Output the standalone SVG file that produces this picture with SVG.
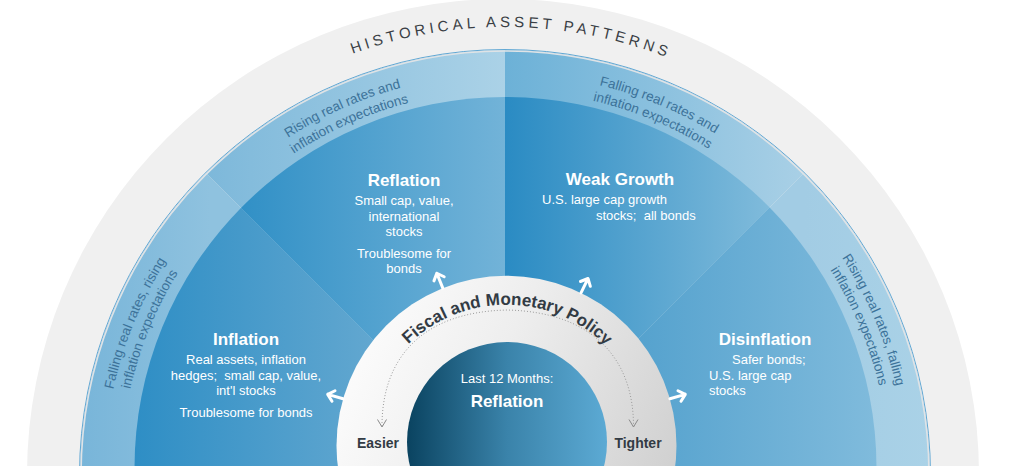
<svg xmlns="http://www.w3.org/2000/svg" xmlns:xlink="http://www.w3.org/1999/xlink" width="1014" height="474" viewBox="0 0 1014 474">
<style>
.t{font-family:"Liberation Sans",Arial,sans-serif;}
.title{font-family:"Liberation Sans",Arial,sans-serif;font-weight:bold;font-size:17px;fill:#fff;}
.body{font-family:"Liberation Sans",Arial,sans-serif;font-size:13px;fill:#fff;}
.band{font-family:"Liberation Sans",Arial,sans-serif;font-size:13.5px;fill:#3c7299;}
.pol{font-family:"Liberation Sans",Arial,sans-serif;font-weight:bold;fill:#323b44;}
</style>
<defs>
<linearGradient id="gL1" gradientUnits="userSpaceOnUse" x1="80" y1="0" x2="210" y2="0"><stop offset="0" stop-color="#78b5d9"/><stop offset="1" stop-color="#8fc2df"/></linearGradient>
<linearGradient id="gL2" gradientUnits="userSpaceOnUse" x1="205" y1="0" x2="505" y2="0"><stop offset="0" stop-color="#7db8da"/><stop offset="1" stop-color="#abd2e7"/></linearGradient>
<linearGradient id="gL3" gradientUnits="userSpaceOnUse" x1="505" y1="0" x2="805" y2="0"><stop offset="0" stop-color="#6cb1d7"/><stop offset="1" stop-color="#a9d0e6"/></linearGradient>
<linearGradient id="gL4" gradientUnits="userSpaceOnUse" x1="805" y1="0" x2="930" y2="0"><stop offset="0" stop-color="#a2cce4"/><stop offset="1" stop-color="#aad2e7"/></linearGradient>
<linearGradient id="gInf" gradientUnits="userSpaceOnUse" x1="134" y1="0" x2="400" y2="0"><stop offset="0" stop-color="#2e8ec5"/><stop offset="1" stop-color="#68aad1"/></linearGradient>
<linearGradient id="gRef" gradientUnits="userSpaceOnUse" x1="241" y1="0" x2="505" y2="0"><stop offset="0" stop-color="#3190c6"/><stop offset="1" stop-color="#72b3d8"/></linearGradient>
<linearGradient id="gWG" gradientUnits="userSpaceOnUse" x1="505" y1="0" x2="770" y2="0"><stop offset="0" stop-color="#2a8bc3"/><stop offset="1" stop-color="#80bbdb"/></linearGradient>
<linearGradient id="gDis" gradientUnits="userSpaceOnUse" x1="637" y1="0" x2="877" y2="0"><stop offset="0" stop-color="#55a2ce"/><stop offset="1" stop-color="#80bbdc"/></linearGradient>
<linearGradient id="gRing" gradientUnits="userSpaceOnUse" x1="340" y1="300" x2="680" y2="460"><stop offset="0" stop-color="#ffffff"/><stop offset="0.45" stop-color="#eeeeee"/><stop offset="1" stop-color="#d0d0d0"/></linearGradient>
<linearGradient id="gCore" gradientUnits="userSpaceOnUse" x1="407" y1="0" x2="607" y2="0"><stop offset="0" stop-color="#0a4360"/><stop offset="0.5" stop-color="#3a83aa"/><stop offset="1" stop-color="#5caad4"/></linearGradient>
<path id="pHist" d="M221.9,127.8 A448,448 0 0 1 797.7,135.9"/>
<path id="pTL1" d="M202.75,211.48 A401,401 0 0 1 512.7,74.07"/>
<path id="pTL2" d="M215.18,222.32 A384.5,384.5 0 0 1 512.38,90.57"/>
<path id="pTR1" d="M488.21,74.35 A401,401 0 0 1 801.12,204.61"/>
<path id="pTR2" d="M488.9,90.84 A384.5,384.5 0 0 1 788.94,215.73"/>
<path id="pL1" d="M104.45,493.89 A401,401 0 0 1 233.06,180.3"/>
<path id="pL2" d="M120.93,493.11 A384.5,384.5 0 0 1 244.25,192.43"/>
<path id="pR1" d="M774.33,177.92 A401,401 0 0 1 905.7,490.39"/>
<path id="pR2" d="M763.25,190.14 A384.5,384.5 0 0 1 889.22,489.76"/>
<path id="pPol" d="M384.9,374.35 A141,141 0 0 1 629.1,376.05"/>
<g id="arr"><path d="M0,0 L0,-16 M-5.5,-10 L0,-16 L5.5,-10" fill="none" stroke="#ffffff" stroke-width="3" stroke-linecap="round" stroke-linejoin="round"/></g>
</defs>

<g id="outer-ring">
<circle cx="503" cy="475" r="476" fill="#f0f0f0"/>
<text class="t" font-size="15" letter-spacing="4" fill="#3a3f45"><textPath href="#pHist" startOffset="50%" text-anchor="middle">HISTORICAL ASSET PATTERNS</textPath></text>
</g>

<g id="band-left">
<path d="M505,472 L80,475 A425,425 0 0 1 206,173 Z" fill="url(#gL1)"/>
<text class="band"><textPath href="#pL1" startOffset="50%" text-anchor="middle">Falling real rates, rising</textPath></text>
<text class="band"><textPath href="#pL2" startOffset="50%" text-anchor="middle">inflation expectations</textPath></text>
</g>
<g id="band-top-left">
<path d="M505,472 L206,173 A425,425 0 0 1 505,50 Z" fill="url(#gL2)"/>
<text class="band"><textPath href="#pTL1" startOffset="50%" text-anchor="middle">Rising real rates and</textPath></text>
<text class="band"><textPath href="#pTL2" startOffset="50%" text-anchor="middle">inflation expectations</textPath></text>
</g>
<g id="band-top-right">
<path d="M505,472 L505,50 A425,425 0 0 1 804,173 Z" fill="url(#gL3)"/>
<text class="band"><textPath href="#pTR1" startOffset="50%" text-anchor="middle">Falling real rates and</textPath></text>
<text class="band"><textPath href="#pTR2" startOffset="50%" text-anchor="middle">inflation expectations</textPath></text>
</g>
<g id="band-right">
<path d="M505,472 L804,173 A425,425 0 0 1 930,475 Z" fill="url(#gL4)"/>
<text class="band"><textPath href="#pR1" startOffset="50%" text-anchor="middle">Rising real rates, falling</textPath></text>
<text class="band"><textPath href="#pR2" startOffset="50%" text-anchor="middle">inflation expectations</textPath></text>
</g>
<g id="band-edge" fill="none">
<circle cx="505" cy="475" r="425.5" stroke="#62a8d4" stroke-width="1"/>
<circle cx="505" cy="475" r="424" stroke="#dfe3e6" stroke-width="1.6"/>
</g>

<g id="sector-inflation">
<path d="M505,472 L134.5,468 A371,371 0 0 1 240.9,207.9 Z" fill="url(#gInf)"/>
<text class="title" x="246" y="345" text-anchor="middle">Inflation</text>
<text class="body" text-anchor="middle" xml:space="preserve"><tspan x="246" y="364">Real assets, inflation</tspan><tspan x="246" y="380">hedges;  small cap, value,</tspan><tspan x="246" y="395">int'l stocks</tspan><tspan x="246" y="417">Troublesome for bonds</tspan></text>
</g>
<g id="sector-reflation">
<path d="M505,472 L240.9,207.9 A371,371 0 0 1 505,97 Z" fill="url(#gRef)"/>
<text class="title" x="404" y="186" text-anchor="middle">Reflation</text>
<text class="body" text-anchor="middle"><tspan x="404" y="205">Small cap, value,</tspan><tspan x="404" y="221">international</tspan><tspan x="404" y="236">stocks</tspan><tspan x="404" y="258">Troublesome for</tspan><tspan x="404" y="273">bonds</tspan></text>
</g>
<g id="sector-weak-growth">
<path d="M505,472 L505,97 A371,371 0 0 1 769.6,207.4 Z" fill="url(#gWG)"/>
<text class="title" x="620" y="185" text-anchor="middle">Weak Growth</text>
<text class="body" xml:space="preserve"><tspan x="542" y="204">U.S. large cap growth</tspan><tspan x="596" y="220">stocks;  all bonds</tspan></text>
</g>
<g id="sector-disinflation">
<path d="M505,472 L769.6,207.4 A371,371 0 0 1 876.5,468 Z" fill="url(#gDis)"/>
<text class="title" x="765" y="345" text-anchor="middle">Disinflation</text>
<text class="body"><tspan x="732" y="364">Safer bonds;</tspan><tspan x="709" y="380">U.S. large cap</tspan><tspan x="709" y="395">stocks</tspan></text>
</g>

<g id="policy-ring">
<circle cx="506.5" cy="445.7" r="170" fill="url(#gRing)"/>
<text class="pol" font-size="17"><textPath href="#pPol" startOffset="50%" text-anchor="middle">Fiscal and Monetary Policy</textPath></text>
<text class="pol" font-size="14" x="378" y="448" text-anchor="middle">Easier</text>
<text class="pol" font-size="14" x="638" y="448" text-anchor="middle">Tighter</text>
</g>

<g id="core">
<circle cx="507" cy="442" r="100" fill="url(#gCore)"/>
<text class="body" x="507" y="383" text-anchor="middle">Last 12 Months:</text>
<text class="title" x="507" y="407" text-anchor="middle">Reflation</text>
</g>

<g id="connectors">
<path d="M382,426 C382,360 420,312 507,310 C594,312 633.5,360 633.5,426" fill="none" stroke="#9a9a9a" stroke-width="1" stroke-dasharray="1,2"/>
<path d="M377.5,419.5 L382,427 L386.5,419.5" fill="none" stroke="#8a8a8a" stroke-width="1"/>
<path d="M629,419.5 L633.5,427 L638,419.5" fill="none" stroke="#8a8a8a" stroke-width="1"/>
<use href="#arr" transform="translate(442.8,288.1) rotate(-22)"/>
<use href="#arr" transform="translate(581,292.9) rotate(26)"/>
<use href="#arr" transform="translate(343.1,398.8) rotate(-74)"/>
<use href="#arr" transform="translate(669.9,398.8) rotate(74)"/>
</g>

<rect x="0" y="466" width="1014" height="8" fill="#ffffff"/>
</svg>
